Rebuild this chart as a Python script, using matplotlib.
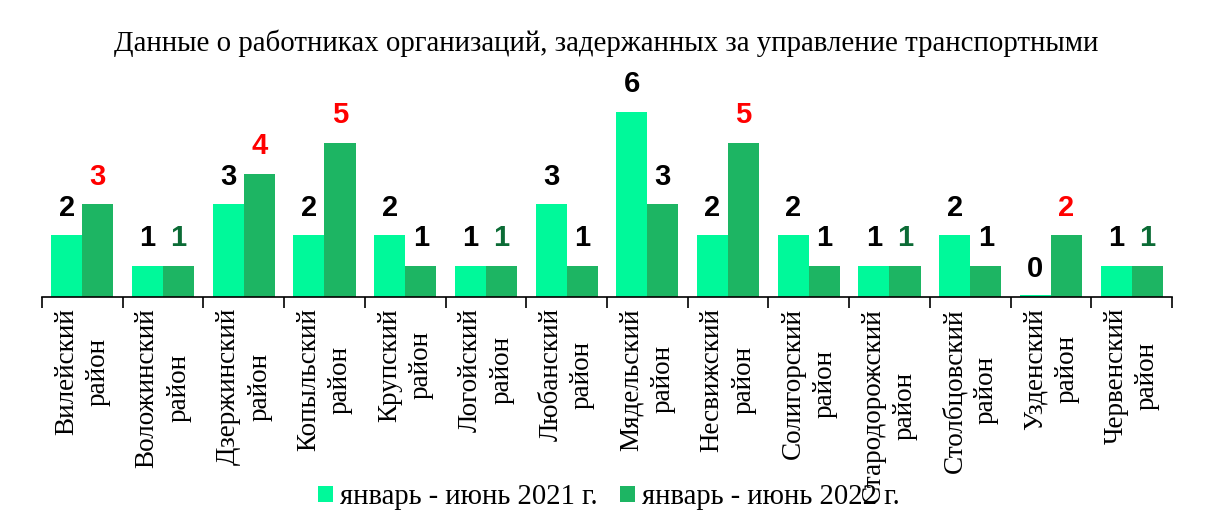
import matplotlib
matplotlib.use("Agg")
import matplotlib.pyplot as plt
import numpy as np

categories = ["Вилейский\nрайон", "Воложинский\nрайон", "Дзержинский\nрайон", "Копыльский\nрайон",
              "Крупский\nрайон", "Логойский\nрайон", "Любанский\nрайон", "Мядельский\nрайон",
              "Несвижский\nрайон", "Солигорский\nрайон", "Стародорожский\nрайон", "Столбцовский\nрайон",
              "Узденский\nрайон", "Червенский\nрайон"]
v2021 = [2, 1, 3, 2, 2, 1, 3, 6, 2, 2, 1, 2, 0, 1]
v2022 = [3, 1, 4, 5, 1, 1, 1, 3, 5, 1, 1, 1, 2, 1]
series_names = ["январь - июнь 2021 г.", "январь - июнь 2022 г."]
title = "Данные о работниках организаций, задержанных за управление транспортными"

c1 = "#00F99A"
c2 = "#1DB563"

fig = plt.figure(figsize=(12.13, 5.25), dpi=100)
ax = fig.add_axes([0.0346, 0.4343, 0.9316, 0.4324])

x = np.arange(len(categories))
w = 0.385
h1 = [v if v > 0 else 0.08 for v in v2021]
b1 = ax.bar(x - w/2, h1, w, color=c1, label=series_names[0])
b2 = ax.bar(x + w/2, v2022, w, color=c2, label=series_names[1])

numfont = dict(family="Liberation Sans", fontweight="bold", fontsize=21)
for i in range(len(x)):
    ax.annotate(str(v2021[i]), (x[i] - w/2, v2021[i]), xytext=(0, 20), textcoords="offset points",
                ha="center", va="center", color="black", **numfont)
    if v2022[i] > v2021[i]:
        col = "#FF0000"
    elif v2022[i] == v2021[i]:
        col = "#0B6B35"
    else:
        col = "black"
    ax.annotate(str(v2022[i]), (x[i] + w/2, v2022[i]), xytext=(0, 20), textcoords="offset points",
                ha="center", va="center", color=col, **numfont)

ax.set_xlim(-0.5, len(x) - 0.5)
ax.set_ylim(0, 7.36)
for s in ["top", "right", "left"]:
    ax.spines[s].set_visible(False)
ax.spines["bottom"].set_linewidth(1.2)
ax.set_yticks([])
ax.set_xticks(np.arange(len(x) + 1) - 0.5)
ax.set_xticklabels([])
ax.tick_params(axis="x", length=8, width=1.2, direction="out")
ax.set_xticks(x, minor=True)
ax.set_xticklabels(categories, minor=True, rotation=90, fontsize=19.5, family="Liberation Serif",
                   ha="center", va="top", multialignment="center", linespacing=1.35)
ax.tick_params(axis="x", which="minor", length=0, pad=8)

fig.text(0.5, 0.918, title, ha="center", va="center", fontsize=20.8, family="Liberation Serif")

leg = fig.legend(handles=[b1, b2], labels=series_names, loc="center", bbox_to_anchor=(0.502, 0.053),
                 ncol=2, frameon=False, prop=dict(family="Liberation Serif", size=20.6),
                 handlelength=0.5, handleheight=0.5, handletextpad=0.25, columnspacing=0.8)

fig.savefig("out.png", dpi=100)
